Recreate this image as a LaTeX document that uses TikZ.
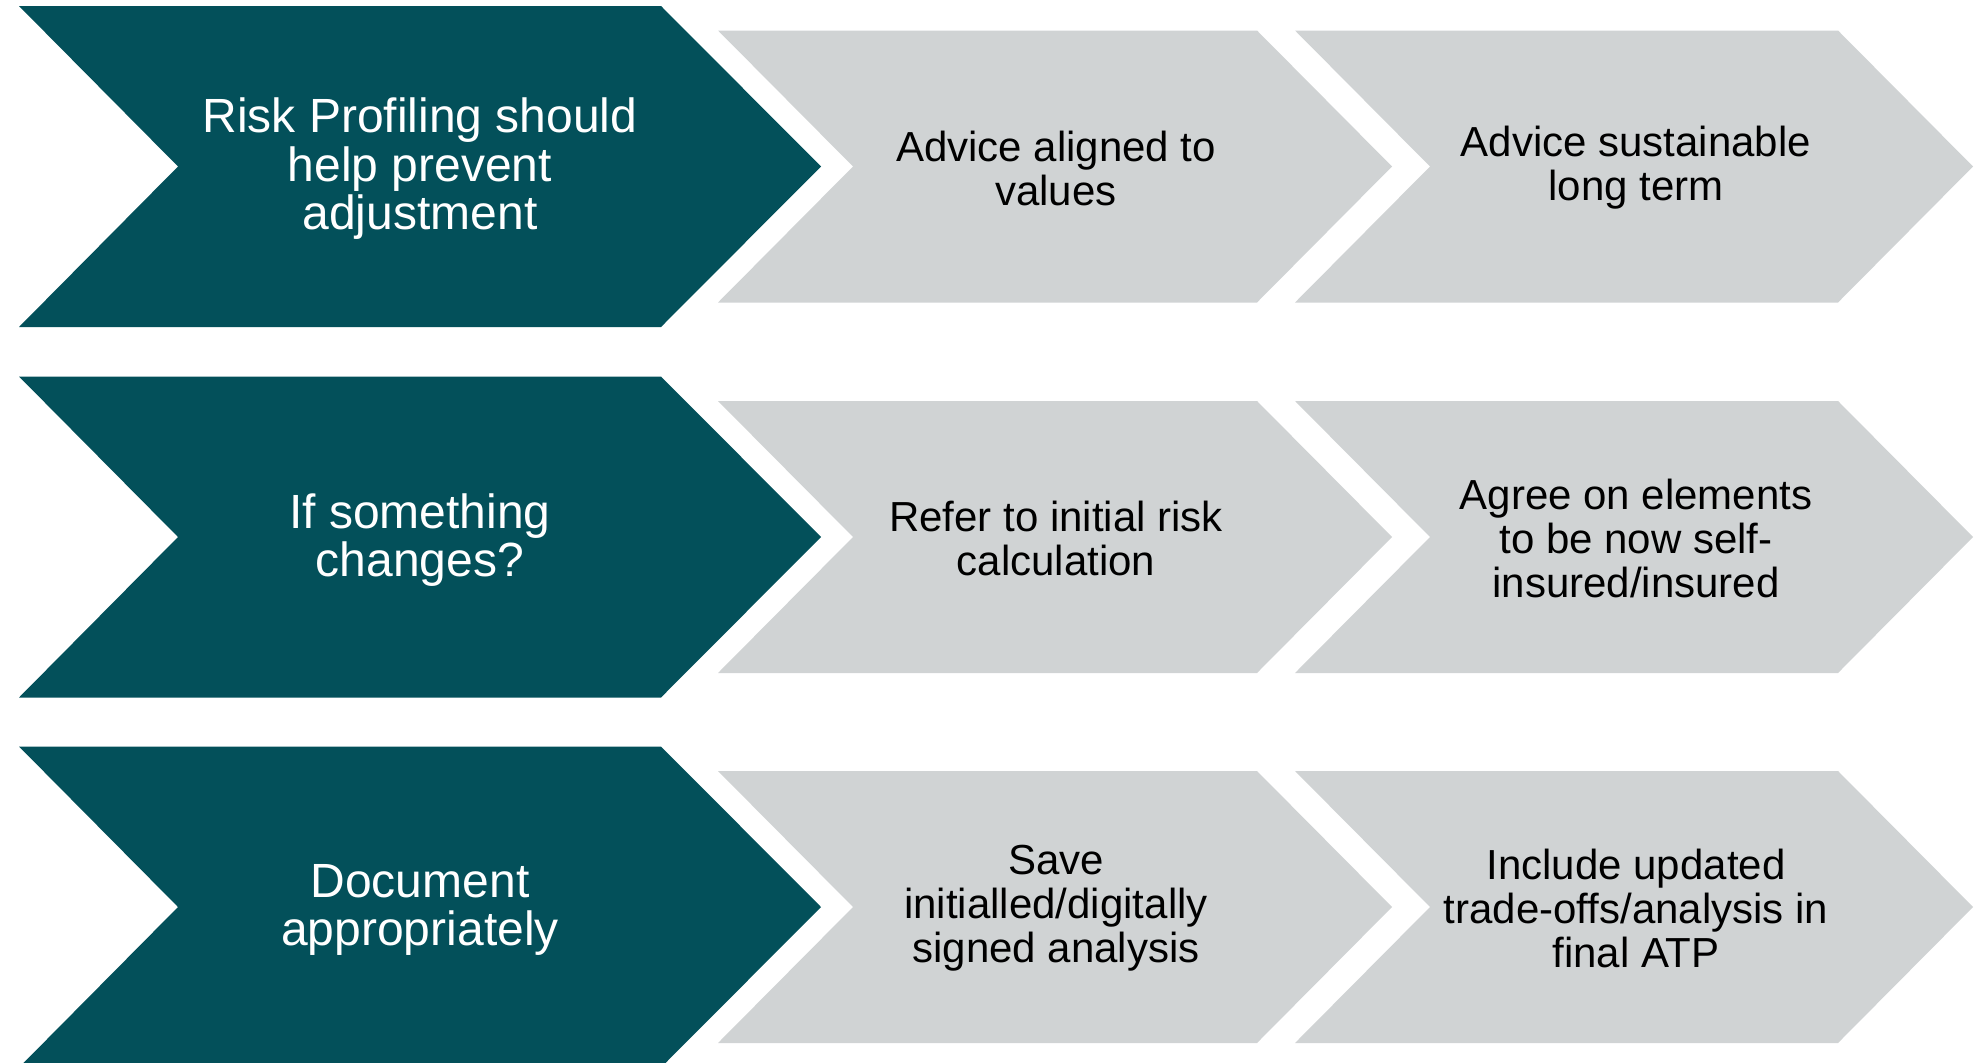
\documentclass[tikz,border=0pt]{standalone}
\usepackage{fontspec}
\setmainfont{Liberation Sans}
\definecolor{leadfill}{HTML}{03505A}
\definecolor{stepfill}{HTML}{D0D3D4}
\tikzset{
  leadshape/.style={fill=leadfill},
  stepshape/.style={fill=stepfill},
  leadtext/.style={text=white, align=center, inner sep=0pt,
    font=\fontsize{48bp}{48.5bp}\selectfont},
  steptext/.style={text=black, align=center, inner sep=0pt,
    font=\fontsize{42bp}{44bp}\selectfont},
}
\begin{document}
\begin{tikzpicture}[x=1bp,y=-1bp]
\clip (0,0) rectangle (1975,1062);
% three rows of chevrons: one dark lead arrow and two grey steps each
\foreach \c in {166.5,537,907}{
  \fill[leadshape] (19,\c-160.5) -- (661,\c-160.5) -- (821,\c)
    -- (661,\c+160.5) -- (19,\c+160.5) -- (178,\c) -- cycle;
  \fill[stepshape] (718,\c-136) -- (1257,\c-136) -- (1392,\c)
    -- (1257,\c+136) -- (718,\c+136) -- (853,\c) -- cycle;
  \fill[stepshape] (1295,\c-136) -- (1838,\c-136) -- (1973,\c)
    -- (1838,\c+136) -- (1295,\c+136) -- (1430,\c) -- cycle;
}
% row 1
\node[leadtext] (lead1) at (420,169) {Risk Profiling should\\help prevent\\adjustment};
\node[steptext] (stepa1) at (1056,168) {Advice aligned to\\values};
\node[steptext] (stepb1) at (1636,168) {Advice sustainable\\long term};
% row 2
\node[leadtext] (lead2) at (420,540) {If something\\changes?};
\node[steptext] (stepa2) at (1056,538) {Refer to initial risk\\calculation};
\node[steptext] (stepb2) at (1636,538) {Agree on elements\\to be now self-\\insured/insured};
% row 3
\node[leadtext] (lead3) at (420,910) {Document\\appropriately};
\node[steptext] (stepa3) at (1056,908) {Save\\initialled/digitally\\signed analysis};
\node[steptext] (stepb3) at (1636,908) {Include updated\\trade-offs/analysis in\\final ATP};
\end{tikzpicture}
\end{document}
